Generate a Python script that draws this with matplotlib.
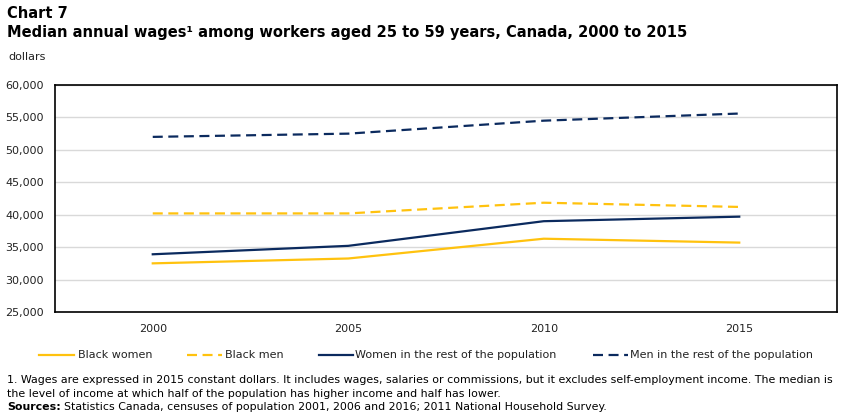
import matplotlib

matplotlib.use("Agg")
import matplotlib.pyplot as plt
from matplotlib.lines import Line2D
from matplotlib.ticker import FuncFormatter

# ---------------------------------------------------------------------------
# Data (dollars, 2015 constant)
# ---------------------------------------------------------------------------
years = ["2000", "2005", "2010", "2015"]
black_women = [32500, 33250, 36300, 35700]
black_men = [40200, 40200, 41850, 41200]
women_rest = [33900, 35200, 39000, 39700]
men_rest = [52000, 52500, 54500, 55600]

series_labels = [
    "Black women",
    "Black men",
    "Women in the rest of the population",
    "Men in the rest of the population",
]

GOLD = "#FFC20E"
NAVY = "#0B2A5E"
DASH = (0, (4.5, 2.5))

plt.rcParams["font.family"] = ["DejaVu Sans"]

fig = plt.figure(figsize=(8.51, 4.16), dpi=100)
W, H = 851, 416


def fx(px):
    return px / W


def fy(py):
    return 1 - py / H


ax = fig.add_axes([fx(55), fy(312), fx(837 - 55), fy(85) - fy(312)])

x = range(len(years))
styles = [
    (black_women, GOLD, "-"),
    (black_men, GOLD, DASH),
    (women_rest, NAVY, "-"),
    (men_rest, NAVY, DASH),
]
for vals, color, ls in styles:
    ax.plot(x, vals, color=color, linestyle=ls, linewidth=1.6)

ax.set_xlim(-0.5, len(years) - 0.5)
ax.set_ylim(25000, 60000)
ax.set_yticks(range(25000, 60001, 5000))
ax.yaxis.set_major_formatter(FuncFormatter(lambda v, _: f"{int(v):,}"))
ax.set_xticks(list(x))
ax.set_xticklabels(years)
ax.tick_params(axis="both", length=0, labelsize=8, colors="#222222")
ax.tick_params(axis="x", pad=9)
ax.tick_params(axis="y", pad=8)
ax.grid(axis="y", color="#d9d9d9", linewidth=1)
ax.set_axisbelow(True)
for side in ["left", "right", "top", "bottom"]:
    ax.spines[side].set_color("black")
    ax.spines[side].set_linewidth(1.2)

# Titles
fig.text(fx(7), fy(13), "Chart 7", fontsize=10.5, fontweight="bold", va="center", ha="left")
fig.text(
    fx(7), fy(32),
    "Median annual wages\u00b9 among workers aged 25 to 59 years, Canada, 2000 to 2015",
    fontsize=10.5, fontweight="bold", va="center", ha="left",
)
fig.text(fx(8), fy(57), "dollars", fontsize=8, va="center", ha="left", color="#222222")

# Legend (drawn by hand to match spacing)
legend_pos = [(39, 74, 78), (187, 222, 225), (319, 353, 355), (593, 628, 630)]
for (x0, x1, xt), (vals, color, ls), label in zip(legend_pos, styles, series_labels):
    fig.add_artist(
        Line2D([fx(x0), fx(x1)], [fy(355), fy(355)], color=color, linestyle=ls,
               linewidth=1.6, transform=fig.transFigure)
    )
    fig.text(fx(xt), fy(355), label, fontsize=8, va="center", ha="left", color="#222222")

# Footnotes
FN = 7.9
fig.text(
    fx(7), fy(380),
    "1. Wages are expressed in 2015 constant dollars. It includes wages, salaries or commissions, "
    "but it excludes self-employment income. The median is",
    fontsize=FN, va="center", ha="left",
)
fig.text(
    fx(7), fy(394),
    "the level of income at which half of the population has higher income and half has lower.",
    fontsize=FN, va="center", ha="left",
)
src = fig.text(fx(7), fy(407), "Sources:", fontsize=FN, fontweight="bold",
               va="center", ha="left")
src_end = src.get_window_extent(renderer=fig.canvas.get_renderer()).x1
fig.text(
    fx(src_end + 3), fy(407),
    "Statistics Canada, censuses of population 2001, 2006 and 2016; 2011 National Household Survey.",
    fontsize=FN, va="center", ha="left",
)

fig.savefig("out.png", dpi=100)
